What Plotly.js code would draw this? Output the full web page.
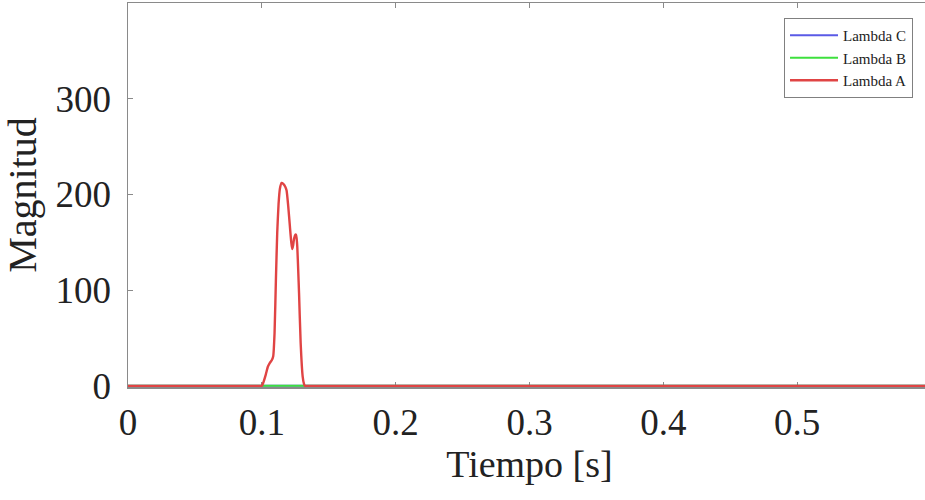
<!DOCTYPE html>
<html>
<head>
<meta charset="utf-8">
<script src="https://cdn.plot.ly/plotly-3.0.1.min.js"></script>
<style>
html,body{margin:0;padding:0;overflow:hidden;background:#fff;}
#chart{width:940px;height:500px;}
</style>
</head>
<body>
<div id="chart"></div>
<script>
// Lambda A (red) — pulse between 0.1 s and 0.132 s
const tA = [0, 0.0980, 0.0995, 0.1000, 0.1010, 0.1030, 0.1045, 0.1060, 0.1075, 0.1085, 0.1095, 0.1105, 0.1115, 0.1125, 0.1135, 0.1148, 0.1160, 0.1175, 0.1185, 0.1197, 0.1210, 0.1220, 0.1227, 0.1234, 0.1241, 0.1250, 0.1255, 0.1260, 0.1265, 0.1272, 0.1278, 0.1290, 0.1305, 0.1315, 0.1322, 0.1335, 0.1350, 0.6];
const yA = [0, 0, 0, 0, 3, 12, 20, 24, 27, 31, 55, 110, 160, 190, 206, 212, 211, 208, 204, 188, 166, 150, 143, 147, 154, 158, 158, 154, 145, 120, 97, 45, 10, 2, 0, 0, 0, 0];
// Lambda B (green) and Lambda C (blue) stay at zero
const tB = [0, 0.6];
const yB = [0, 0];
const tC = [0, 0.6];
const yC = [0, 0];

const xTicks = [0, 0.1, 0.2, 0.3, 0.4, 0.5];
const xTickText = ['0', '0.1', '0.2', '0.3', '0.4', '0.5'];
const yTicks = [0, 100, 200, 300];
const yTickText = ['0', '100', '200', '300'];

const traces = [
  {x: tC, y: yC, mode: 'lines', name: 'Lambda C', line: {color: '#5a5ae6', width: 2}},
  {x: tB, y: yB, mode: 'lines', name: 'Lambda B', line: {color: '#3ee03e', width: 2}},
  {x: tA, y: yA, mode: 'lines', name: 'Lambda A', line: {color: '#e04444', width: 2.4, shape: 'spline', smoothing: 0.5}}
];

const axisCommon = {
  showline: true, linecolor: '#8a8a8a', linewidth: 1.5, mirror: 'allticks',
  ticks: 'inside', ticklen: 5, tickcolor: '#8a8a8a', tickwidth: 1,
  showgrid: false, zeroline: false, layer: 'below traces',
  tickfont: {family: 'Liberation Serif, Times New Roman, serif', size: 37, color: '#222'}
};

const layout = {
  width: 940, height: 500,
  margin: {l: 128, r: 9, t: 3, b: 113},
  paper_bgcolor: '#fff', plot_bgcolor: '#fff',
  showlegend: true,
  legend: {
    x: 0.9776, xanchor: 'right', y: 0.961, yanchor: 'top',
    bgcolor: '#fff', bordercolor: '#808080', borderwidth: 1,
    font: {family: 'Liberation Serif, Times New Roman, serif', size: 15, color: '#222'},
    traceorder: 'normal', tracegroupgap: 0, itemwidth: 48
  },
  xaxis: Object.assign({}, axisCommon, {
    range: [0, 0.6], tickvals: xTicks, ticktext: xTickText, ticklabelstandoff: 2,
    title: {text: 'Tiempo [s]', standoff: 6, font: {family: 'Liberation Serif, Times New Roman, serif', size: 38, color: '#222'}}
  }),
  yaxis: Object.assign({}, axisCommon, {
    range: [-1.2, 400], tickvals: yTicks, ticktext: yTickText, ticklabelstandoff: 8,
    title: {text: 'Magnitud', standoff: 6, font: {family: 'Liberation Serif, Times New Roman, serif', size: 40, color: '#222'}}
  })
};

Plotly.newPlot('chart', traces, layout, {displayModeBar: false, staticPlot: true});
</script>
</body>
</html>
